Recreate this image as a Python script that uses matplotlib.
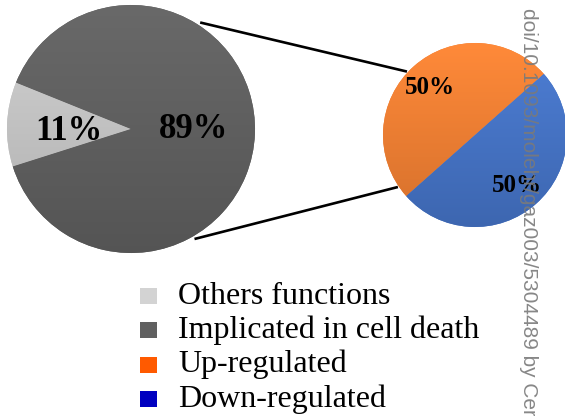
import numpy as np
import matplotlib
matplotlib.use("Agg")
import matplotlib.pyplot as plt
import matplotlib.colors as mcolors
from matplotlib.patches import Rectangle

# data
main_labels = ["Others functions", "Implicated in cell death"]
main_values = [11, 89]
sub_labels = ["Up-regulated", "Down-regulated"]
sub_values = [50, 50]

pie_colors = ["#c2c2c2", "#5e5e5e", "#ed7d31", "#4472c4"]
legend_colors = ["#d3d3d3", "#606060", "#ff5a00", "#0000c0"]

W, H = 565, 416
fig = plt.figure(figsize=(W / 100, H / 100), dpi=100)
ax = fig.add_axes([0, 0, 1, 1])


def shade(wedges, center, radius):
    # soft vertical gradient inside each wedge, lighter at top
    for w in wedges:
        base = np.array(mcolors.to_rgb(w.get_facecolor()))
        t = np.linspace(0, 1, 64)[:, None]
        top = np.clip(base * 1.06 + 0.02, 0, 1)
        bot = base * 0.9
        img = (top * (1 - t) + bot * t)[:, None, :]
        im = ax.imshow(img, extent=(center[0] - radius, center[0] + radius,
                                    center[1] - radius, center[1] + radius),
                       origin="upper", aspect="auto", zorder=w.get_zorder() + 0.1,
                       interpolation="bilinear")
        im.set_clip_path(w)


# big pie
c1 = (131, H - 129)
r1 = 124
w1, _ = ax.pie(main_values, colors=pie_colors[:2], startangle=158, counterclock=True,
               center=c1, radius=r1, wedgeprops=dict(linewidth=0))
shade(w1, c1, r1)
# small pie
c2 = (475, H - 135)
r2 = 92
w2, _ = ax.pie(sub_values, colors=pie_colors[2:], startangle=41.6, counterclock=True,
               center=c2, radius=r2, wedgeprops=dict(linewidth=0))
shade(w2, c2, r2)

# connecting lines
def on_circle(c, r, ang):
    a = np.deg2rad(ang)
    return c[0] + r * np.cos(a), c[1] + r * np.sin(a)

for a1, a2 in [(57, 137), (-60, 214)]:
    x0, y0 = on_circle(c1, r1 + 3, a1)
    x1, y1 = on_circle(c2, r2 + 1, a2)
    ax.plot([x0, x1], [y0, y1], color="black", lw=1.9, solid_capstyle="butt", zorder=3)

# percentage labels
bold = dict(family="Liberation Serif", weight="bold", color="black", zorder=4)
ax.text(69, H - 131, f"{main_values[0]}%", fontsize=25, ha="center", va="center", **bold)
ax.text(194, H - 129, f"{main_values[1]}%", fontsize=25, ha="center", va="center", **bold)
ax.text(430, H - 88, f"{sub_values[0]}%", fontsize=18, ha="center", va="center", **bold)
ax.text(517, H - 185, f"{sub_values[1]}%", fontsize=18, ha="center", va="center", **bold)

# legend
for i, (lab, col) in enumerate(zip(main_labels + sub_labels, legend_colors)):
    y = H - (296 + i * 34.3)
    ax.add_patch(Rectangle((140, y - 8), 17, 16, color=col, lw=0))
    ax.text(178, y, lab, fontsize=23, family="Liberation Serif",
            ha="left", va="center", color="black")

# watermark
ax.text(523, H - 8, "doi/10.1093/molehr/gaz003/5304489 by Cer", fontsize=15,
        family="Liberation Sans", color="#7a7a7a", alpha=0.9, zorder=5,
        rotation=-90, rotation_mode="anchor", ha="left", va="baseline")

ax.set_xlim(0, W)
ax.set_ylim(0, H)
ax.set_aspect("equal")
ax.axis("off")

fig.savefig("out.png", dpi=100)
